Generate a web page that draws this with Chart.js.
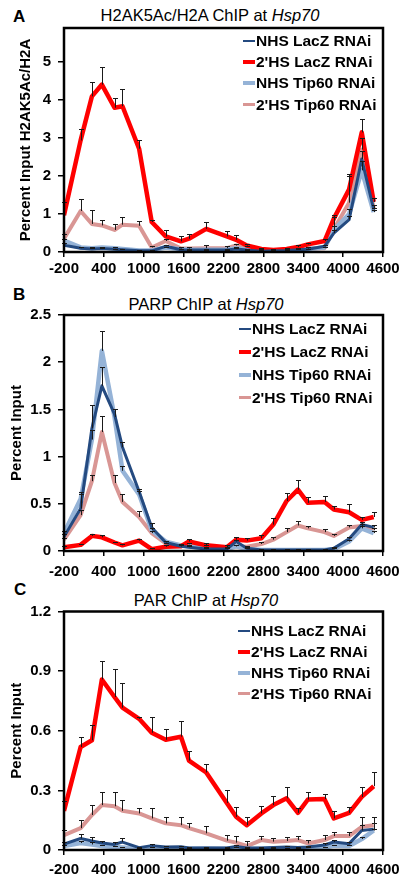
<!DOCTYPE html>
<html>
<head>
<meta charset="utf-8">
<script src="https://cdn.jsdelivr.net/npm/chart.js@4.4.1/dist/chart.umd.min.js"></script>
<style>
  html, body { margin: 0; padding: 0; background: #fff; }
  body { width: 410px; height: 882px; position: relative; overflow: hidden;
         font-family: "Liberation Sans", Arial, sans-serif; color: #000; }
  canvas { position: absolute; left: 0; display: block; }
  .letter { position: absolute; font-weight: bold; font-size: 17px; line-height: 20px; }
  .ttl { position: absolute; font-size: 16.5px; line-height: 18px; white-space: nowrap; transform: translateX(-50%); }
  .leg { position: absolute; font-weight: bold; font-size: 15.5px; line-height: 18px; white-space: nowrap; }
  .leg span.sw { display: inline-block; width: 12px; vertical-align: middle; margin-right: 1px; position: relative; top: -1px; }
</style>
</head>
<body>
<div class="letter" style="left:13px;top:7px">A</div>
<div class="ttl" style="left:210px;top:6px">H2AK5Ac/H2A ChIP at <i>Hsp70</i></div>
<div class="letter" style="left:13px;top:285px">B</div>
<div class="ttl" style="left:206px;top:295px">PARP ChIP at <i>Hsp70</i></div>
<div class="letter" style="left:14px;top:580px">C</div>
<div class="ttl" style="left:206px;top:591px">PAR ChIP at <i>Hsp70</i></div>

<canvas id="chartA" width="410" height="285" style="top:0px"></canvas>
<canvas id="chartB" width="410" height="295" style="top:290px"></canvas>
<canvas id="chartC" width="410" height="297" style="top:585px"></canvas>

<div id="legA"></div><div id="legB"></div><div id="legC"></div>

<script>
// ---- shared ----
const positions = [-200, 50, 220, 370, 560, 680, 930, 1120, 1330, 1560, 1680, 1940, 2250, 2390, 2550, 2770, 2950, 3150, 3320, 3470, 3720, 3860, 4090, 4280, 4460];
const xTickLabels = [-200, 400, 1000, 1600, 2200, 2800, 3400, 4000, 4600];
const seriesNames = ["NHS LacZ RNAi", "2'HS LacZ RNAi", "NHS Tip60 RNAi", "2'HS Tip60 RNAi"];
const seriesColors = ["#244A80", "#FF0000", "#95B3D7", "#D99694"];

// ---- Panel A: H2AK5Ac/H2A ----
const aNhsLacZ   = [0.18, 0.10, 0.08, 0.09, 0.07, 0.06, 0.03, 0.03, 0.15, 0.06, 0.05, 0.05, 0.05, 0.08, 0.05, 0.02, 0.03, 0.04, 0.06, 0.07, 0.15, 0.50, 0.85, 2.45, 1.12];
const aHsLacZ    = [0.97, 2.94, 4.10, 4.41, 3.80, 3.84, 2.72, 0.79, 0.41, 0.28, 0.35, 0.61, 0.41, 0.32, 0.17, 0.08, 0.05, 0.08, 0.13, 0.20, 0.29, 0.88, 1.65, 3.15, 1.32];
const aNhsTip60  = [0.30, 0.12, 0.10, 0.12, 0.10, 0.08, 0.04, 0.04, 0.12, 0.07, 0.06, 0.06, 0.06, 0.10, 0.06, 0.03, 0.04, 0.05, 0.07, 0.08, 0.12, 0.58, 1.00, 2.15, 1.05];
const aHsTip60   = [0.35, 1.08, 0.74, 0.70, 0.58, 0.72, 0.69, 0.12, 0.29, 0.09, 0.09, 0.10, 0.10, 0.17, 0.13, 0.05, 0.04, 0.05, 0.07, 0.09, 0.10, 0.60, 1.30, 2.70, 1.15];
const aNhsLacZErr  = [0.05, 0.03, 0.02, 0.02, 0.02, 0.02, 0.01, 0.01, 0.03, 0.02, 0.01, 0.01, 0.01, 0.02, 0.01, 0.01, 0.01, 0.01, 0.02, 0.02, 0.03, 0.08, 0.10, 0.20, 0.05];
const aHsLacZErr   = [0.35, 0.31, 0.39, 0.46, 0.25, 0.46, 0.22, 0.05, 0.18, 0.13, 0.13, 0.18, 0.14, 0.13, 0.05, 0.03, 0.02, 0.03, 0.05, 0.04, 0.05, 0.10, 0.40, 0.35, 0.10];
const aNhsTip60Err = [0.04, 0.02, 0.02, 0.02, 0.02, 0.01, 0.01, 0.01, 0.02, 0.01, 0.01, 0.01, 0.01, 0.02, 0.01, 0.01, 0.01, 0.01, 0.01, 0.01, 0.02, 0.10, 0.12, 0.25, 0.06];
const aHsTip60Err  = [0.13, 0.32, 0.37, 0.15, 0.16, 0.20, 0.12, 0.04, 0.05, 0.04, 0.05, 0.08, 0.05, 0.05, 0.04, 0.02, 0.02, 0.02, 0.04, 0.03, 0.04, 0.33, 0.70, 0.30, 0.10];

// ---- Panel B: PARP ----
const bNhsLacZ   = [0.15, 0.45, 1.30, 1.75, 1.45, 1.10, 0.63, 0.25, 0.09, 0.05, 0.04, 0.02, 0.02, 0.10, 0.03, 0.01, 0.01, 0.01, 0.01, 0.01, 0.01, 0.03, 0.13, 0.28, 0.25];
const bHsLacZ    = [0.04, 0.065, 0.16, 0.145, 0.09, 0.06, 0.11, 0.02, 0.045, 0.05, 0.10, 0.06, 0.04, 0.12, 0.11, 0.135, 0.28, 0.53, 0.65, 0.51, 0.52, 0.44, 0.41, 0.33, 0.36];
const bNhsTip60  = [0.19, 0.55, 1.18, 2.12, 1.42, 0.85, 0.60, 0.22, 0.10, 0.06, 0.05, 0.03, 0.02, 0.05, 0.02, 0.01, 0.01, 0.01, 0.01, 0.01, 0.01, 0.02, 0.10, 0.24, 0.19];
const bHsTip60   = [0.12, 0.38, 0.74, 1.26, 0.72, 0.52, 0.36, 0.19, 0.08, 0.06, 0.07, 0.05, 0.03, 0.05, 0.045, 0.074, 0.12, 0.20, 0.27, 0.24, 0.20, 0.16, 0.25, 0.265, 0.22];
const bNhsLacZErr  = [0.03, 0.15, 0.25, 0.20, 0.05, 0.05, 0.03, 0.05, 0.02, 0.01, 0.01, 0.01, 0.01, 0.02, 0.01, 0.01, 0.01, 0.01, 0.01, 0.01, 0.01, 0.01, 0.02, 0.03, 0.03];
const bHsLacZErr   = [0.01, 0.01, 0.015, 0.02, 0.01, 0.01, 0.02, 0.01, 0.02, 0.02, 0.03, 0.02, 0.02, 0.03, 0.03, 0.03, 0.07, 0.08, 0.10, 0.06, 0.06, 0.04, 0.09, 0.03, 0.05];
const bNhsTip60Err = [0.02, 0.07, 0.10, 0.21, 0.08, 0.05, 0.04, 0.02, 0.01, 0.01, 0.01, 0.01, 0.01, 0.01, 0.01, 0.01, 0.01, 0.01, 0.01, 0.01, 0.01, 0.01, 0.02, 0.03, 0.02];
const bHsTip60Err  = [0.02, 0.05, 0.06, 0.17, 0.09, 0.08, 0.06, 0.02, 0.01, 0.01, 0.01, 0.01, 0.01, 0.01, 0.01, 0.02, 0.03, 0.04, 0.05, 0.03, 0.03, 0.02, 0.03, 0.02, 0.02];

// ---- Panel C: PAR ----
const cNhsLacZ   = [0.03, 0.058, 0.045, 0.035, 0.028, 0.04, 0.012, 0.022, 0.015, 0.016, 0.01, 0.01, 0.01, 0.018, 0.01, 0.01, 0.012, 0.015, 0.012, 0.015, 0.025, 0.04, 0.032, 0.098, 0.105];
const cHsLacZ    = [0.197, 0.518, 0.552, 0.858, 0.77, 0.716, 0.66, 0.59, 0.555, 0.57, 0.45, 0.39, 0.237, 0.167, 0.125, 0.184, 0.226, 0.26, 0.187, 0.254, 0.256, 0.159, 0.187, 0.267, 0.321];
const cNhsTip60  = [0.02, 0.035, 0.028, 0.02, 0.015, 0.012, 0.006, 0.01, 0.008, 0.007, 0.006, 0.008, 0.006, 0.01, 0.005, 0.006, 0.008, 0.008, 0.008, 0.01, 0.012, 0.022, 0.02, 0.055, 0.098];
const cHsTip60   = [0.075, 0.11, 0.176, 0.226, 0.22, 0.197, 0.184, 0.159, 0.134, 0.125, 0.11, 0.084, 0.047, 0.037, 0.02, 0.05, 0.042, 0.045, 0.05, 0.033, 0.05, 0.07, 0.07, 0.117, 0.125];
const cNhsLacZErr  = [0.01, 0.025, 0.02, 0.01, 0.01, 0.02, 0.005, 0.01, 0.005, 0.005, 0.005, 0.005, 0.005, 0.005, 0.005, 0.005, 0.005, 0.005, 0.005, 0.005, 0.01, 0.01, 0.01, 0.03, 0.03];
const cHsLacZErr   = [0.05, 0.05, 0.075, 0.095, 0.14, 0.125, 0.01, 0.08, 0.055, 0.08, 0.05, 0.045, 0.063, 0.05, 0.04, 0.036, 0.044, 0.055, 0.023, 0.036, 0.024, 0.037, 0.03, 0.048, 0.07];
const cNhsTip60Err = [0.005, 0.01, 0.01, 0.005, 0.005, 0.005, 0.003, 0.003, 0.003, 0.003, 0.003, 0.003, 0.003, 0.003, 0.003, 0.003, 0.003, 0.003, 0.003, 0.003, 0.005, 0.005, 0.005, 0.01, 0.01];
const cHsTip60Err  = [0.025, 0.04, 0.05, 0.064, 0.07, 0.053, 0.026, 0.051, 0.03, 0.042, 0.027, 0.036, 0.028, 0.033, 0.025, 0.02, 0.018, 0.022, 0.02, 0.017, 0.025, 0.02, 0.02, 0.047, 0.039];

const lineWidths = [3, 4.5, 4.5, 4];

// error bars drawn from the library's scales
const errorBars = {
  id: 'errorBars',
  afterDatasetsDraw(chart) {
    const ctx = chart.ctx, xs = chart.scales.x, ys = chart.scales.y;
    ctx.save();
    ctx.strokeStyle = '#1a1a1a';
    ctx.lineWidth = 1;
    chart.data.datasets.forEach(ds => {
      ds.data.forEach((pt, i) => {
        const e = ds.errs[i];
        if (!e) return;
        const px = Math.round(xs.getPixelForValue(pt.x)) + 0.5;
        const y0 = ys.getPixelForValue(pt.y);
        const y1 = Math.round(ys.getPixelForValue(pt.y + e)) + 0.5;
        ctx.beginPath();
        ctx.moveTo(px, y0); ctx.lineTo(px, y1);
        ctx.moveTo(px - 2.5, y1); ctx.lineTo(px + 2.5, y1);
        ctx.stroke();
      });
    });
    ctx.restore();
  }
};
const frame = {
  id: 'frame',
  afterDraw(chart) {
    const a = chart.chartArea, ctx = chart.ctx;
    ctx.save();
    ctx.strokeStyle = '#000';
    ctx.lineWidth = 2.5;
    ctx.strokeRect(a.left, a.top, a.right - a.left, a.bottom - a.top);
    ctx.restore();
  }
};

function makeChart(id, values, errs, yMax, yStep, yTitle, padTop, bottomH, titlePad, xTickPad) {
  const datasets = values.map((vals, s) => ({
    label: seriesNames[s],
    data: positions.map((x, i) => ({ x: x, y: vals[i] })),
    errs: errs[s],
    borderColor: seriesColors[s],
    backgroundColor: seriesColors[s],
    borderWidth: lineWidths[s],
    pointRadius: 0,
    tension: 0,
    fill: false,
    borderJoinStyle: 'round'
  }));
  const font = { family: '"Liberation Sans", Arial, sans-serif', size: 15, weight: 'bold' };
  return new Chart(document.getElementById(id), {
    type: 'line',
    data: { datasets },
    options: {
      responsive: false,
      animation: false,
      layout: { padding: { top: padTop, right: 27, left: 0, bottom: 0 } },
      plugins: { legend: { display: false }, tooltip: { enabled: false } },
      scales: {
        x: {
          type: 'linear', min: -200, max: 4600,
          afterBuildTicks: s => { s.ticks = xTickLabels.map(v => ({ value: v })); },
          ticks: { color: '#000', font, padding: xTickPad, maxRotation: 0, autoSkip: false,
                   callback: v => String(v) },
          grid: { drawOnChartArea: false, drawTicks: true, tickLength: 5, color: '#000', lineWidth: 1.5 },
          border: { display: false },
          afterFit: s => { s.height = bottomH; }
        },
        y: {
          min: 0, max: yMax,
          ticks: { stepSize: yStep, includeBounds: false, color: '#000', font, padding: 7,
                   callback: v => String(Math.round(v * 100) / 100) },
          grid: { drawOnChartArea: false, drawTicks: true, tickLength: 6, color: '#000', lineWidth: 1.5 },
          border: { display: false },
          title: { display: true, text: yTitle, color: '#000', font, padding: { top: titlePad, bottom: 0 } },
          afterFit: s => { s.width = 64; }
        }
      }
    },
    plugins: [errorBars, frame]
  });
}

makeChart('chartA', [aNhsLacZ, aHsLacZ, aNhsTip60, aHsTip60],
  [aNhsLacZErr, aHsLacZErr, aNhsTip60Err, aHsTip60Err], 5.9, 1, 'Percent Input H2AK5Ac/H2A', 28, 33, 17, 3);
makeChart('chartB', [bNhsLacZ, bHsLacZ, bNhsTip60, bHsTip60],
  [bNhsLacZErr, bHsLacZErr, bNhsTip60Err, bHsTip60Err], 2.5, 0.5, 'Percent Input', 25, 34, 8, 7);
makeChart('chartC', [cNhsLacZ, cHsLacZ, cNhsTip60, cHsTip60],
  [cNhsLacZErr, cHsLacZErr, cNhsTip60Err, cHsTip60Err], 1.2, 0.3, 'Percent Input', 26.5, 32, 8, 6);

// legends (HTML) built from series names/colours
function legend(id, left, rows) {
  const el = document.getElementById(id);
  seriesNames.forEach((n, s) => {
    const d = document.createElement('div');
    d.className = 'leg';
    d.style.left = left + 'px';
    d.style.top = (rows[s] - 9) + 'px';
    const sw = document.createElement('span');
    sw.className = 'sw';
    sw.style.height = Math.max(2, lineWidths[s] - 1) + 'px';
    sw.style.background = seriesColors[s];
    d.appendChild(sw);
    d.appendChild(document.createTextNode(n));
    el.appendChild(d);
  });
}
legend('legA', 243, [41, 62, 83, 105]);
legend('legB', 239, [329, 352, 375, 398]);
legend('legC', 238, [631, 652, 673, 694]);
</script>
</body>
</html>
